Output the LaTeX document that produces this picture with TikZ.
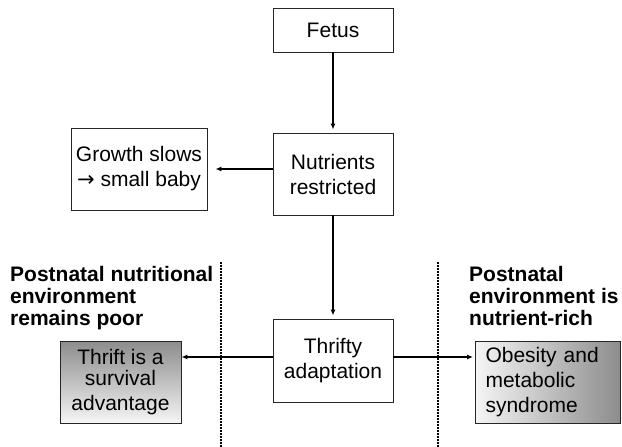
\documentclass[tikz,border=0pt]{standalone}
\usepackage{fontspec}
\setmainfont{Liberation Sans}
\newfontfamily\arrowfont{DejaVu Sans}
\usetikzlibrary{arrows.meta}

\begin{document}
\begin{tikzpicture}[x=1bp,y=-1bp,
        every node/.append style={font=\fontsize{21bp}{25bp}\selectfont},
        box/.style={draw=black!85,line width=0.9bp,inner sep=0pt,align=center,minimum width=120bp,minimum height=82bp},
        shadebox/.style={box,top color=black!45,bottom color=black!4},
        arr/.style={line width=1.8bp,-{Latex[length=6bp,width=5bp]}},
        divider/.style={line width=1.4bp,dash pattern=on 2bp off 1bp},
        heading/.style={anchor=north west,inner sep=0pt,align=left,font=\bfseries\fontsize{21bp}{22bp}\selectfont}]
        \useasboundingbox (0,0) rectangle (622,447);
        % boxes
        \node[box,minimum height=44bp] (fetus) at (333,30) {Fetus};
        \node[box] (nutr) at (333,174) {Nutrients\\restricted};
        \node[box,minimum width=136bp] (grow) at (139,169) {Growth slows\\{\arrowfont→} small baby};
        \node[box,minimum height=83bp] (thr) at (333,360.5) {Thrifty\\adaptation};
        \node[shadebox,minimum width=121bp] (surv) at (120.5,382) {Thrift is a\\[-4.5bp]survival\\advantage};
        \node[box,left color=black!4,right color=black!45,align=left,text width=125bp,inner xsep=10bp] (obes) at (548,382) {Obesity and\\metabolic\\syndrome};
        % headings
        \node[heading] (poor) at (10,266) {Postnatal nutritional\\environment\\remains poor};
        \node[heading] (rich) at (469,266) {Postnatal\\environment is\\nutrient-rich};
        \draw[divider] (221,262) -- (221,447);
        \draw[divider] (438,262) -- (438,447);
        % arrows
        \draw[arr,shorten >=3bp] (fetus) -- (nutr);
        \draw[arr,shorten >=8bp] ([yshift=5bp]nutr.west) -- ([yshift=5bp]nutr.west -| grow.east);
        \draw[arr,shorten >=3bp] (nutr) -- (thr);
        \draw[arr] ([yshift=3.5bp]thr.west) -- ([yshift=3.5bp]thr.west -| surv.east);
        \draw[arr,shorten >=2bp] ([yshift=3.5bp]thr.east) -- ([yshift=3.5bp]thr.east -| obes.west);
\end{tikzpicture}
\end{document}
